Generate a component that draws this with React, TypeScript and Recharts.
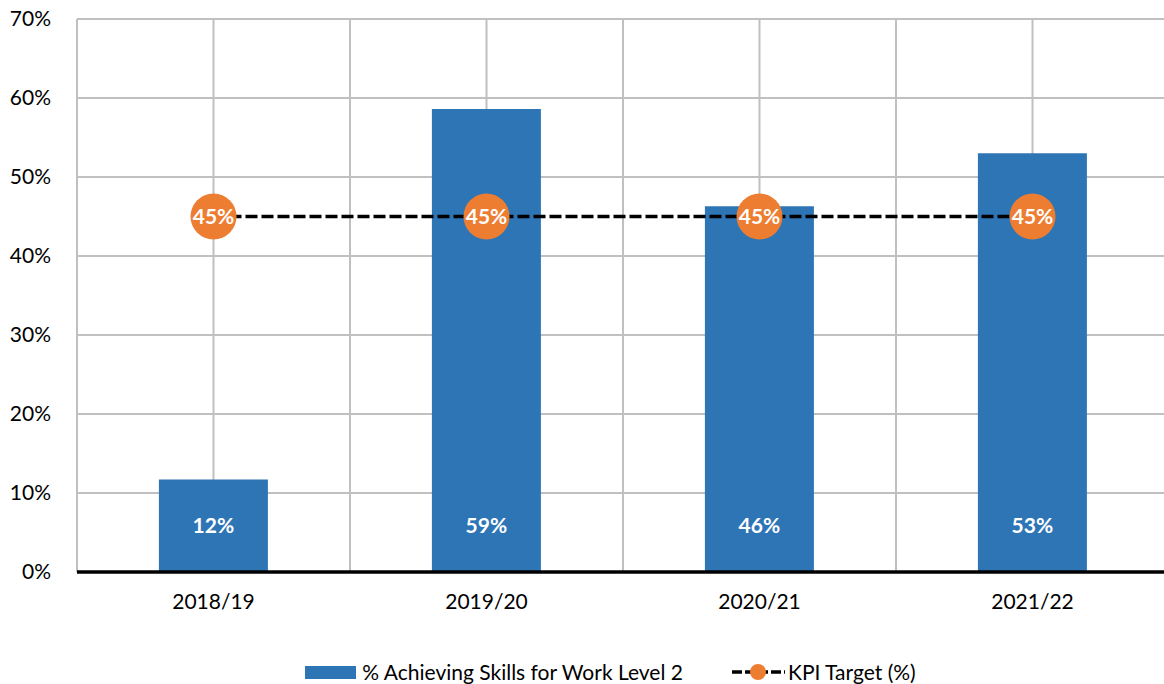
import {
    ComposedChart,
    Bar,
    Line,
    XAxis,
    YAxis,
    CartesianGrid,
    Legend,
    LabelList,
} from 'recharts';

const years = ['2018/19', '2019/20', '2020/21', '2021/22'];
const achieving = [0.117, 0.586, 0.463, 0.53];
const kpiTarget = [0.45, 0.45, 0.45, 0.45];
const yTicks = [0, 0.1, 0.2, 0.3, 0.4, 0.5, 0.6, 0.7];
// vertical grid: category centres and boundaries (in half-category steps)
const gridSteps = [0, 1, 2, 3, 4, 5, 6, 7, 8];

const BLUE = '#2E75B6';
const ORANGE = '#ED7D31';
const FONT = 'Lato, "Open Sans", sans-serif';

const data = years.map((year, i) => ({
    year,
    achieving: achieving[i],
    target: kpiTarget[i],
}));

const pct = (v: number) => `${Math.round(v * 100)}%`;

function BarValueLabel(props: any) {
    const { x, y, width, height, value } = props;
    return (
        <text
            x={x + width / 2}
            y={y + height - 44}
            textAnchor="middle"
            dominantBaseline="middle"
            fill="#fff"
            fontWeight={700}
            fontSize={21}
            fontFamily={FONT}
        >
            {pct(value)}
        </text>
    );
}

function TargetDot(props: any) {
    const { cx, cy, value, index } = props;
    return (
        <g key={index}>
            <circle cx={cx} cy={cy} r={23} fill={ORANGE} />
            <text
                x={cx}
                y={cy + 2}
                textAnchor="middle"
                dominantBaseline="middle"
                fill="#fff"
                fontWeight={700}
                fontSize={21}
                fontFamily={FONT}
            >
                {pct(value)}
            </text>
        </g>
    );
}

function ChartLegend() {
    return (
        <div
            style={{
                display: 'flex',
                justifyContent: 'center',
                alignItems: 'center',
                height: 26,
                marginTop: 47,
                fontFamily: FONT,
                fontSize: 21,
                lineHeight: '26px',
                color: '#000',
                gap: 49,
                paddingLeft: 52,
            }}
        >
            <div style={{ display: 'flex', alignItems: 'center' }}>
                <span style={{ width: 51, height: 13, background: BLUE, marginRight: 6 }} />
                % Achieving Skills for Work Level 2
            </div>
            <div style={{ display: 'flex', alignItems: 'center' }}>
                <svg width={53} height={24} style={{ marginRight: 3 }}>
                    <line x1={0} y1={12} x2={53} y2={12} stroke="#000" strokeWidth={3.5} strokeDasharray="10 3" />
                    <circle cx={26} cy={12} r={8} fill={ORANGE} />
                </svg>
                KPI Target (%)
            </div>
        </div>
    );
}

export default function App() {
    return (
        <div style={{ position: 'absolute', left: 0, top: 0, width: 1172, height: 684, background: '#fff' }}>
            <ComposedChart
                width={1172}
                height={684}
                data={data}
                barCategoryGap="30%"
                margin={{ top: 19, right: 3, left: 0, bottom: 0 }}
            >
                <CartesianGrid
                    stroke="#c0c0c0"
                    strokeWidth={2}
                    verticalCoordinatesGenerator={({ offset }: any) =>
                        gridSteps.map((s) => offset.left + (offset.width * s) / 8)
                    }
                />
                <XAxis
                    dataKey="year"
                    tick={{ fontSize: 21, fill: '#000', fontFamily: FONT }}
                    tickLine={false}
                    axisLine={{ stroke: '#000', strokeWidth: 3.5 }}
                    tickMargin={16}
                    height={40}
                />
                <YAxis
                    domain={[0, 0.7]}
                    ticks={yTicks}
                    tickFormatter={pct}
                    tick={{ fontSize: 21, fill: '#000', fontFamily: FONT }}
                    tickLine={false}
                    axisLine={false}
                    width={77}
                    tickMargin={20}
                />
                <Bar dataKey="achieving" fill={BLUE} isAnimationActive={false}>
                    <LabelList dataKey="achieving" content={BarValueLabel} />
                </Bar>
                <Line
                    dataKey="target"
                    stroke="#000"
                    strokeWidth={3.5}
                    strokeDasharray="12 4"
                    dot={TargetDot}
                    activeDot={false}
                    isAnimationActive={false}
                />
                <Legend verticalAlign="bottom" height={72} content={ChartLegend} />
            </ComposedChart>
        </div>
    );
}
